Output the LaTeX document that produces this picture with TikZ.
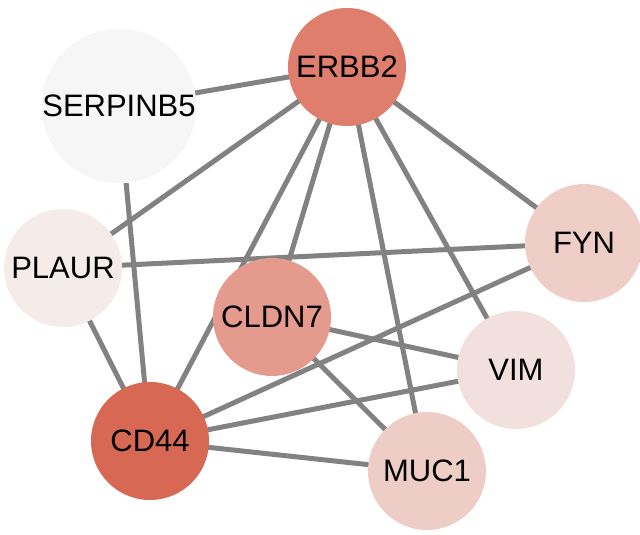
\documentclass[tikz,border=0pt]{standalone}
\usepackage{fontspec}
\setmainfont{Liberation Sans}
\usetikzlibrary{backgrounds}
\definecolor{cERBB2}{RGB}{224,126,110}
\definecolor{cCLDN7}{RGB}{228,154,140}
\definecolor{cCD44}{RGB}{215,104,84}
\definecolor{cFYN}{RGB}{239,206,200}
\definecolor{cMUC1}{RGB}{239,205,199}
\definecolor{cVIM}{RGB}{242,224,222}
\definecolor{cPLAUR}{RGB}{245,235,233}
\definecolor{cSERP}{RGB}{246,246,246}
\definecolor{edgegray}{RGB}{130,130,130}
\begin{document}
\begin{tikzpicture}[x=1pt,y=-1pt,
  gene/.style={circle,minimum size=118pt,inner sep=0pt,text=black,font=\fontsize{31}{36}\selectfont},
  link/.style={draw=edgegray,line width=5pt}]
\useasboundingbox (0,0) rectangle (640,535);
\node[gene,fill=cSERP] (SERP) at (119,106) {SERPINB5};
\node[gene,fill=cPLAUR] (PLAUR) at (63,268) {PLAUR};
\node[gene,fill=cERBB2] (ERBB2) at (347,67) {ERBB2};
\node[gene,fill=cFYN] (FYN) at (584,243) {FYN};
\node[gene,fill=cVIM] (VIM) at (516,370) {VIM};
\node[gene,fill=cCD44] (CD44) at (150,441) {CD44};
\node[gene,fill=cMUC1] (MUC1) at (427,471) {MUC1};
\node[gene,fill=cCLDN7] (CLDN7) at (272,317) {CLDN7};
\begin{scope}[on background layer]
\draw[link] (SERP.center) -- (ERBB2.center);
\draw[link] (SERP.center) -- (CD44.center);
\draw[link] (ERBB2.center) -- (PLAUR.center);
\draw[link] (ERBB2.center) -- (CD44.center);
\draw[link] (ERBB2.center) -- (CLDN7.center);
\draw[link] (ERBB2.center) -- (MUC1.center);
\draw[link] (ERBB2.center) -- (VIM.center);
\draw[link] (ERBB2.center) -- (FYN.center);
\draw[link] (PLAUR.center) -- (FYN.center);
\draw[link] (PLAUR.center) -- (CD44.center);
\draw[link] (FYN.center) -- (CD44.center);
\draw[link] (CLDN7.center) -- (VIM.center);
\draw[link] (CLDN7.center) -- (MUC1.center);
\draw[link] (VIM.center) -- (CD44.center);
\draw[link] (CD44.center) -- (MUC1.center);
\end{scope}
\end{tikzpicture}
\end{document}
